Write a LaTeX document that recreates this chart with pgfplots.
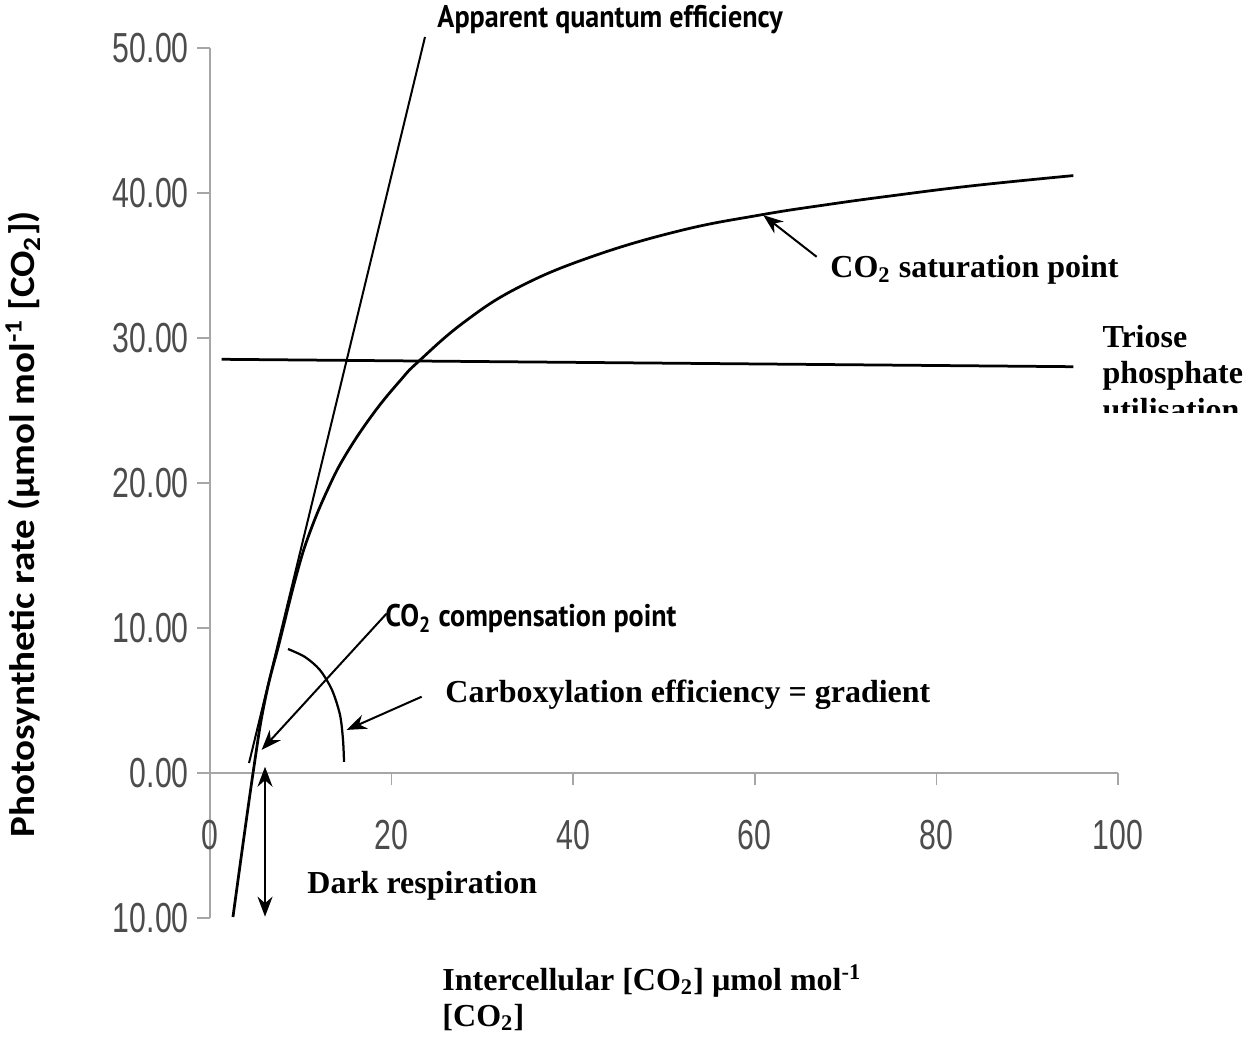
\documentclass[border=0pt]{standalone}
\usepackage{pgfplots}
\pgfplotsset{compat=1.18}
\usepackage{fontspec}
\usetikzlibrary{arrows.meta}
\setmainfont{Liberation Serif}
\newfontfamily\ticksans{Liberation Sans}
\newfontfamily\ylabfont{Carlito}
\newfontfamily\condfont{PT Sans}
\newcommand{\tl}[1]{\scalebox{0.72}[1]{#1}}
\begin{document}
\begin{tikzpicture}
\begin{axis}[
  scale only axis,
  width=363.2pt, height=348pt,
  xmin=0, xmax=100, ymin=-10, ymax=50,
  axis x line=middle, axis y line=left,
  axis line style={black!35, line width=0.7pt, -},
  xtick={0,20,40,60,80,100},
  ytick={-10,0,10,20,30,40,50},
  xticklabels={\tl{0},\tl{20},\tl{40},\tl{60},\tl{80},\tl{100}},
  yticklabels={\tl{10.00},\tl{0.00},\tl{10.00},\tl{20.00},\tl{30.00},\tl{40.00},\tl{50.00}},
  tick style={black!35, line width=0.7pt},
  tick align=outside,
  major tick length=5pt,
  hide obscured x ticks=false,
  hide obscured y ticks=false,
  ticklabel style={font=\ticksans\fontsize{16.8}{18}\selectfont, text=black!70},
  xticklabel style={anchor=center, yshift=-20pt},
  yticklabel style={anchor=east, xshift=0pt},
  clip=false,
]
% A/Ci response curve
\addplot[black, line width=1.1pt, smooth, tension=0.7] coordinates {
 (2.53,-9.93) (4.74,0) (6.06,5.03) (7.71,9.17) (9.58,13.79) (11,16.6)
 (13,19.6) (15,22.0) (18,24.8) (21,27.1) (23,28.4) (28,31.1)
 (34,33.5) (42,35.6) (51.76,37.4) (60.57,38.48) (68,39.2)
 (75,39.8) (84,40.5) (95.08,41.2)};
% apparent quantum efficiency line
\addplot[black, line width=0.8pt] coordinates {(4.30,0.69) (23.68,50.76)};
% triose phosphate utilisation
\addplot[black, line width=1.1pt] coordinates {(1.29,28.53) (95.08,28.02)};
% carboxylation angle arc
\addplot[black, line width=0.9pt, smooth] coordinates {
 (8.59,8.55) (10.46,8.0) (12.11,7.10) (13.44,5.72) (14.32,4.0) (14.65,2.28) (14.76,0.76)};
% arrows
\draw[black, line width=0.8pt, -{Stealth[length=8pt,width=6pt]}] (axis cs:66.81,35.6) -- (axis cs:60.93,38.47);
\draw[black, line width=0.8pt, -{Stealth[length=8pt,width=6pt]}] (axis cs:19.46,11.0) -- (axis cs:5.69,1.59);
\draw[black, line width=0.8pt, -{Stealth[length=8pt,width=6pt]}] (axis cs:23.31,5.26) -- (axis cs:15.05,2.97);
\draw[black, line width=0.8pt, {Stealth[length=8pt,width=6pt]}-{Stealth[length=8pt,width=6pt]}] (axis cs:6.06,0.43) -- (axis cs:6.06,-9.91);
% labels
\node[anchor=base west, inner sep=0pt, font=\condfont\bfseries\fontsize{12.5}{13}\selectfont] at (axis cs:25.0,51.38) {\scalebox{0.9}[1]{Apparent quantum efficiency}};
\node[anchor=base west, inner sep=0pt, font=\condfont\bfseries\fontsize{12.5}{13}\selectfont] at (axis cs:19.27,10.07) {\scalebox{0.9}[1]{CO\textsubscript{2} compensation point}};
\node[anchor=base west, inner sep=0pt, font=\bfseries\fontsize{12.8}{14.5}\selectfont] at (axis cs:68.28,34.14) {CO\textsubscript{2} saturation point};
\node[anchor=base west, inner sep=0pt, font=\bfseries\fontsize{12.8}{14.5}\selectfont] at (axis cs:25.88,4.83) {Carboxylation efficiency = gradient};
\node[anchor=base west, inner sep=0pt, font=\bfseries\fontsize{12.8}{14.5}\selectfont] at (axis cs:10.68,-8.28) {Dark respiration};
\begin{scope}
\clip (axis cs:96,32) rectangle (axis cs:115.42,24.83);
\node[anchor=base west, inner sep=0pt, align=left, font=\bfseries\fontsize{12.8}{14.6}\selectfont] at (axis cs:98.24,24.34) {Triose\\phosphate\\utilisation};
\end{scope}
\node[anchor=base west, inner sep=0pt, align=left, font=\bfseries\fontsize{12.8}{14.4}\selectfont] at (axis cs:25.55,-17.45) {Intercellular [CO\textsubscript{2}] \textmu mol mol\textsuperscript{-1}\\{}[CO\textsubscript{2}]};
\node[rotate=90, anchor=base, inner sep=0pt, font=\ylabfont\bfseries\fontsize{14.2}{15}\selectfont] at (axis cs:-19.3,17.17) {\scalebox{1.1}[1]{Photosynthetic rate (\textmu mol mol\textsuperscript{-1} [CO\textsubscript{2}])}};
\coordinate (bl) at (axis cs:-23.128,-18.276);
\coordinate (tr) at (axis cs:115.42,53.31);
\end{axis}
\pgfresetboundingbox
\path (bl) rectangle (tr);
\end{tikzpicture}
\end{document}
